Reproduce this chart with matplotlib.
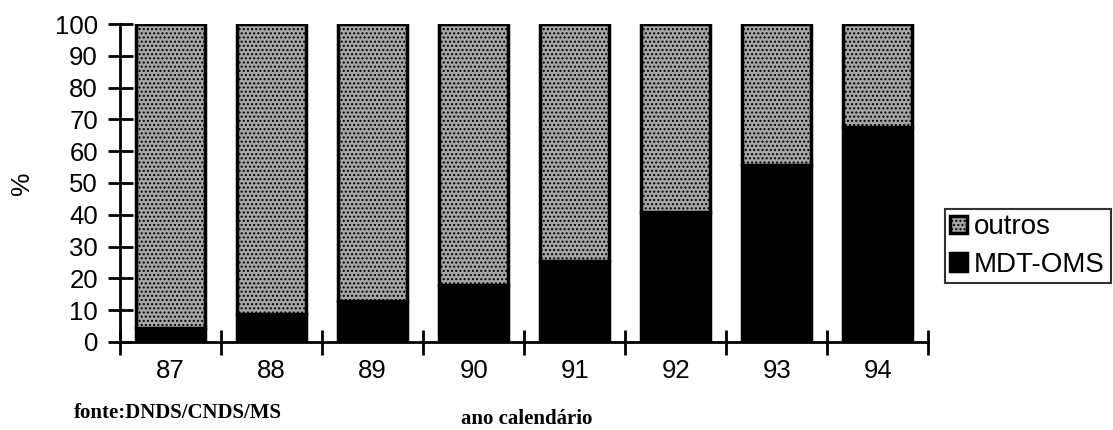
import numpy as np
from matplotlib import pyplot as plt

anos = ["87", "88", "89", "90", "91", "92", "93", "94"]
mdt_oms = [4.5, 8.8, 13.0, 18.0, 25.5, 41.0, 55.5, 67.5]
outros = [100 - v for v in mdt_oms]

plt.rcParams['font.family'] = ['Liberation Sans', 'DejaVu Sans']
plt.rcParams['hatch.color'] = '#5c5c5c'

fig = plt.figure(figsize=(11.13, 4.30), dpi=100)
ax = fig.add_axes([0.108, 0.205, 0.726, 0.739])

x = np.arange(len(anos))
b1 = ax.bar(x, mdt_oms, width=0.68, color='black', edgecolor='black', linewidth=2.5, label='MDT-OMS')
b2 = ax.bar(x, outros, bottom=mdt_oms, width=0.68, color='#a6a6a6', edgecolor='black',
            linewidth=2.5, hatch='....', label='outros')

ax.set_xlim(-0.5, len(anos) - 0.5)
ax.set_ylim(0, 100)
ax.spines['top'].set_visible(False)
ax.spines['right'].set_visible(False)
ax.spines['left'].set_linewidth(2)
ax.spines['bottom'].set_linewidth(2)

ax.set_yticks(range(0, 101, 10))
ax.tick_params(axis='y', direction='inout', length=18, width=2, labelsize=18.5, pad=7)

# ticks between the years, labels at the centers
ax.set_xticks(np.arange(len(anos) + 1) - 0.5)
ax.set_xticklabels([])
ax.tick_params(axis='x', which='major', direction='inout', length=18, width=2)
ax.set_xticks(x, minor=True)
ax.set_xticklabels(anos, minor=True)
ax.tick_params(axis='x', which='minor', length=0, labelsize=18.5, pad=12)

ax.set_ylabel('%', fontsize=19)
ax.yaxis.set_label_coords(-0.107, 0.5)

fig.text(0.066, 0.028, 'fonte:DNDS/CNDS/MS', family='Liberation Serif', weight='bold', fontsize=15)
fig.text(0.414, 0.014, 'ano calendário', family='Liberation Serif', weight='bold', fontsize=15)

leg = ax.legend(handles=[b2, b1], loc='center left', bbox_to_anchor=(0.849, 0.428),
                bbox_transform=fig.transFigure, fontsize=20, frameon=True, fancybox=False,
                edgecolor='black', handlelength=0.6, handleheight=0.6, handletextpad=0.25,
                borderpad=0.2, labelspacing=0.4, borderaxespad=0)
leg.get_frame().set_linewidth(1.5)

plt.savefig('out.png', dpi=100)
